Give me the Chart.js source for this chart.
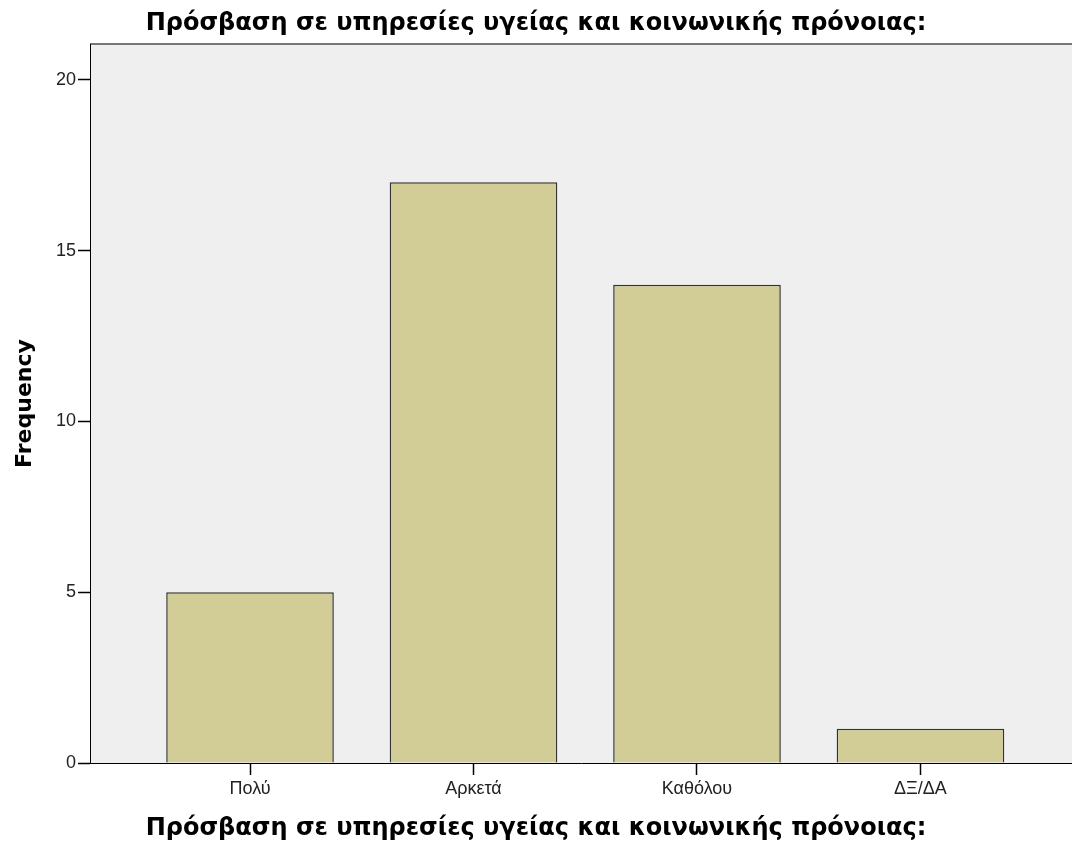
<!DOCTYPE html>
<html>
<head>
<meta charset="utf-8">
<script src="https://cdn.jsdelivr.net/npm/chart.js@4/dist/chart.umd.min.js"></script>
<style>
  html, body { margin: 0; padding: 0; background: #fff; }
  #wrap { width: 1072px; height: 845px; }
</style>
</head>
<body>
<div id="wrap"><canvas id="myChart" width="1072" height="845"></canvas></div>
<script>
const categories = ['Πολύ', 'Αρκετά', 'Καθόλου', 'ΔΞ/ΔΑ'];
const frequency = [5, 17, 14, 1];
const yTicks = [0, 5, 10, 15, 20];
const titleText = 'Πρόσβαση σε υπηρεσίες υγείας και κοινωνικής πρόνοιας:';

// grey plot background + top frame line
const plotBg = {
  id: 'plotBg',
  beforeDraw(chart) {
    const { ctx, chartArea: a } = chart;
    ctx.save();
    ctx.fillStyle = '#efefef';
    ctx.fillRect(a.left, a.top, a.right - a.left, a.bottom - a.top);
    ctx.strokeStyle = '#777';
    ctx.lineWidth = 2;
    ctx.beginPath();
    ctx.moveTo(a.left, a.top);
    ctx.lineTo(a.right, a.top);
    ctx.stroke();
    ctx.restore();
  }
};

const ctx = document.getElementById('myChart').getContext('2d');
new Chart(ctx, {
  type: 'bar',
  data: {
    datasets: [{
      label: 'Frequency',
      data: frequency.map((v, i) => ({ x: i, y: v })),
      backgroundColor: '#d2cd97',
      borderColor: '#333',
      borderWidth: 1.5,
      barPercentage: 0.75,
      categoryPercentage: 1
    }]
  },
  options: {
    responsive: false,
    animation: false,
    layout: { padding: 0 },
    plugins: {
      legend: { display: false },
      tooltip: { enabled: false },
      title: {
        display: true,
        text: titleText,
        color: '#000',
        font: { family: 'DejaVu Sans', size: 24, weight: 'bold', lineHeight: 1.2 },
        padding: { top: 9.2, bottom: 6 }
      },
      // x axis title, centred on the whole canvas like the top title
      subtitle: {
        display: true,
        position: 'bottom',
        text: titleText,
        color: '#000',
        font: { family: 'DejaVu Sans', size: 24, weight: 'bold', lineHeight: 0.3 },
        padding: { top: 26.4, bottom: 12.4 }
      }
    },
    scales: {
      x: {
        type: 'linear',
        offset: false,
        min: -0.716,
        max: 3.678,
        afterFit(scale) { scale.height = 36; },
        afterBuildTicks(scale) {
          scale.ticks = categories.map((c, i) => ({ value: i }));
        },
        grid: { offset: false, drawOnChartArea: false, drawTicks: true, tickLength: 12, tickWidth: 1.5, color: '#000' },
        border: { color: '#000', width: 1 },
        ticks: {
          color: '#222',
          font: { family: 'Liberation Sans', size: 18 },
          padding: 3,
          maxRotation: 0,
          autoSkip: false,
          callback: v => categories[v] ?? ''
        }
      },
      y: {
        min: 0,
        max: 21.05,
        afterFit(scale) { scale.width = 90; },
        afterBuildTicks(scale) {
          scale.ticks = yTicks.map(v => ({ value: v }));
        },
        grid: { drawOnChartArea: false, drawTicks: true, tickLength: 12, tickWidth: 1.5, color: '#000' },
        border: { color: '#000', width: 1 },
        ticks: {
          color: '#222',
          font: { family: 'Liberation Sans', size: 18 },
          padding: 2
        },
        title: {
          display: true,
          text: 'Frequency',
          color: '#000',
          font: { family: 'DejaVu Sans', size: 22, weight: 'bold', lineHeight: 1.2 },
          padding: { top: 12.5 }
        }
      }
    }
  },
  plugins: [plotBg]
});
</script>
</body>
</html>
